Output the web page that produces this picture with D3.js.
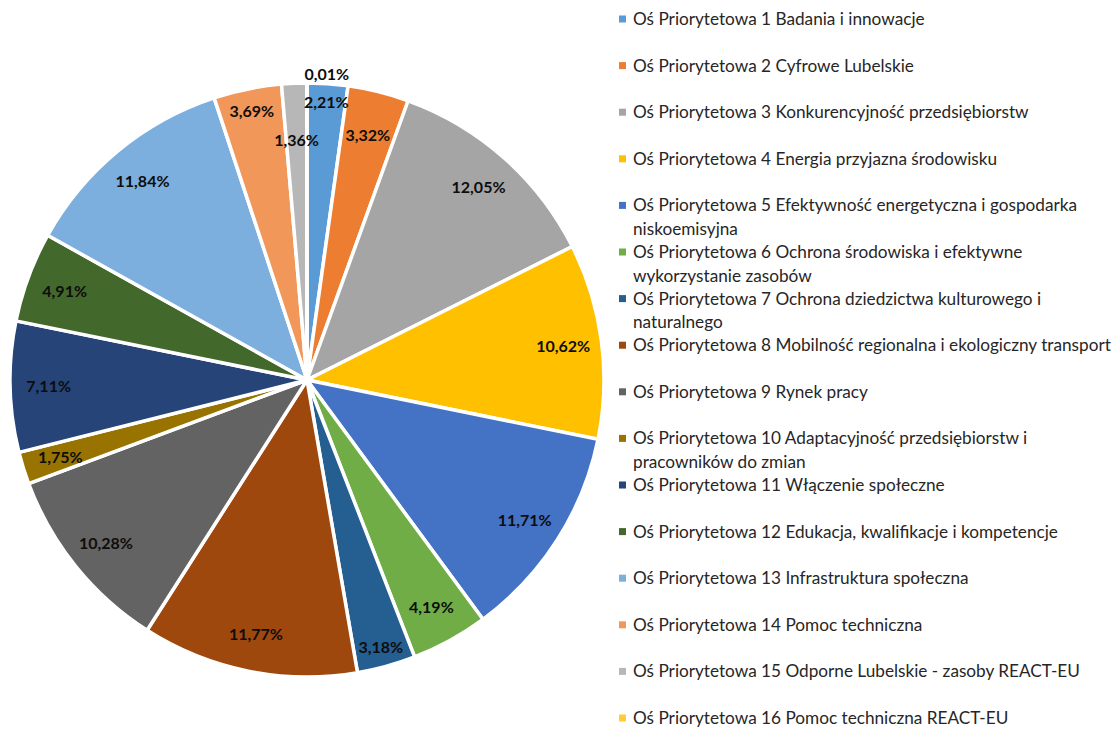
<!DOCTYPE html>
<html>
<head>
<meta charset="utf-8">
<script src="https://cdn.jsdelivr.net/npm/d3@7"></script>
<style>
  html, body { margin: 0; padding: 0; background: #fff; }
  svg { display: block; }
</style>
</head>
<body>
<svg id="chart" width="1115" height="729"></svg>
<script>
// ---- data ----
const categories = [
  ["Oś Priorytetowa 1 Badania i innowacje"],
  ["Oś Priorytetowa 2 Cyfrowe Lubelskie"],
  ["Oś Priorytetowa 3 Konkurencyjność przedsiębiorstw"],
  ["Oś Priorytetowa 4 Energia przyjazna środowisku"],
  ["Oś Priorytetowa 5 Efektywność energetyczna i gospodarka", "niskoemisyjna"],
  ["Oś Priorytetowa 6 Ochrona środowiska i efektywne", "wykorzystanie zasobów"],
  ["Oś Priorytetowa 7 Ochrona dziedzictwa kulturowego i", "naturalnego"],
  ["Oś Priorytetowa 8 Mobilność regionalna i ekologiczny transport"],
  ["Oś Priorytetowa 9 Rynek pracy"],
  ["Oś Priorytetowa 10 Adaptacyjność przedsiębiorstw i", "pracowników do zmian"],
  ["Oś Priorytetowa 11 Włączenie społeczne"],
  ["Oś Priorytetowa 12 Edukacja, kwalifikacje i kompetencje"],
  ["Oś Priorytetowa 13 Infrastruktura społeczna"],
  ["Oś Priorytetowa 14 Pomoc techniczna"],
  ["Oś Priorytetowa 15 Odporne Lubelskie - zasoby REACT-EU"],
  ["Oś Priorytetowa 16 Pomoc techniczna REACT-EU"]
];
const shares = [2.21, 3.32, 12.05, 10.62, 11.71, 4.19, 3.18, 11.77, 10.28, 1.75, 7.11, 4.91, 11.84, 3.69, 1.36, 0.01];
const colors = ["#5B9BD5", "#ED7D31", "#A5A5A5", "#FFC000", "#4472C4", "#70AD47", "#255E91", "#9E480E",
                "#636363", "#997300", "#264478", "#43682B", "#7CAFDD", "#F1975A", "#B7B7B7", "#FFCD33"];

// ---- layout ----
const cx = 307, cy = 380, R = 297;
const labelFactor = 0.87;
const labelFactorOverride = {0: 0.94, 1: 0.85, 6: 0.93, 13: 0.925, 14: 0.81, 15: 1.035};
const labelAngleOverride = {15: 3.7 * Math.PI / 180};

const svg = d3.select("#chart");
const g = svg.append("g").attr("transform", `translate(${cx},${cy})`);

const data = shares.map((v, i) => ({ v, i }));
const pie = d3.pie().value(d => d.v).sort(null).startAngle(0).endAngle(2 * Math.PI);
const arcs = pie(data);
const arc = d3.arc().innerRadius(0).outerRadius(R);

g.selectAll("path.slice")
  .data(arcs)
  .join("path")
  .attr("class", "slice")
  .attr("d", arc)
  .attr("fill", d => colors[d.data.i])
  .attr("stroke", "#fff")
  .attr("stroke-width", 3.5)
  .attr("stroke-linejoin", "round");

const fmt = v => v.toFixed(2).replace(".", ",") + "%";
const labelPos = d => {
  const f = labelFactorOverride[d.data.i] ?? labelFactor;
  const a = labelAngleOverride[d.data.i] ?? (d.startAngle + d.endAngle) / 2;
  return [Math.sin(a) * R * f, -Math.cos(a) * R * f];
};

g.selectAll("text.lbl")
  .data(arcs)
  .join("text")
  .attr("class", "lbl")
  .attr("x", d => labelPos(d)[0])
  .attr("y", d => labelPos(d)[1])
  .attr("text-anchor", "middle")
  .attr("dominant-baseline", "central")
  .style("font-family", "Lato, 'Liberation Sans', sans-serif")
  .style("font-weight", "bold")
  .style("font-size", "16px")
  .attr("fill", "#0d0d0d")
  .text(d => fmt(d.data.v));

// ---- legend ----
const legendY = d3.scaleLinear().domain([0, 15]).range([19, 718]);
const legend = svg.append("g");
const items = legend.selectAll("g.item")
  .data(categories)
  .join("g")
  .attr("class", "item")
  .attr("transform", (d, i) => `translate(619,${legendY(i)})`);

items.append("rect")
  .attr("x", 0).attr("y", -3.5)
  .attr("width", 7).attr("height", 7)
  .attr("fill", (d, i) => colors[i]);

items.each(function(lines) {
  const t = d3.select(this).append("text")
    .attr("x", 14)
    .style("font-family", "Lato, 'Noto Sans', sans-serif")
    .style("font-size", "17.2px")
    .attr("fill", "#262626");
  lines.forEach((ln, k) => {
    t.append("tspan").attr("x", 14).attr("y", k * 23.5).attr("dy", "0.35em").text(ln);
  });
});
</script>
</body>
</html>
